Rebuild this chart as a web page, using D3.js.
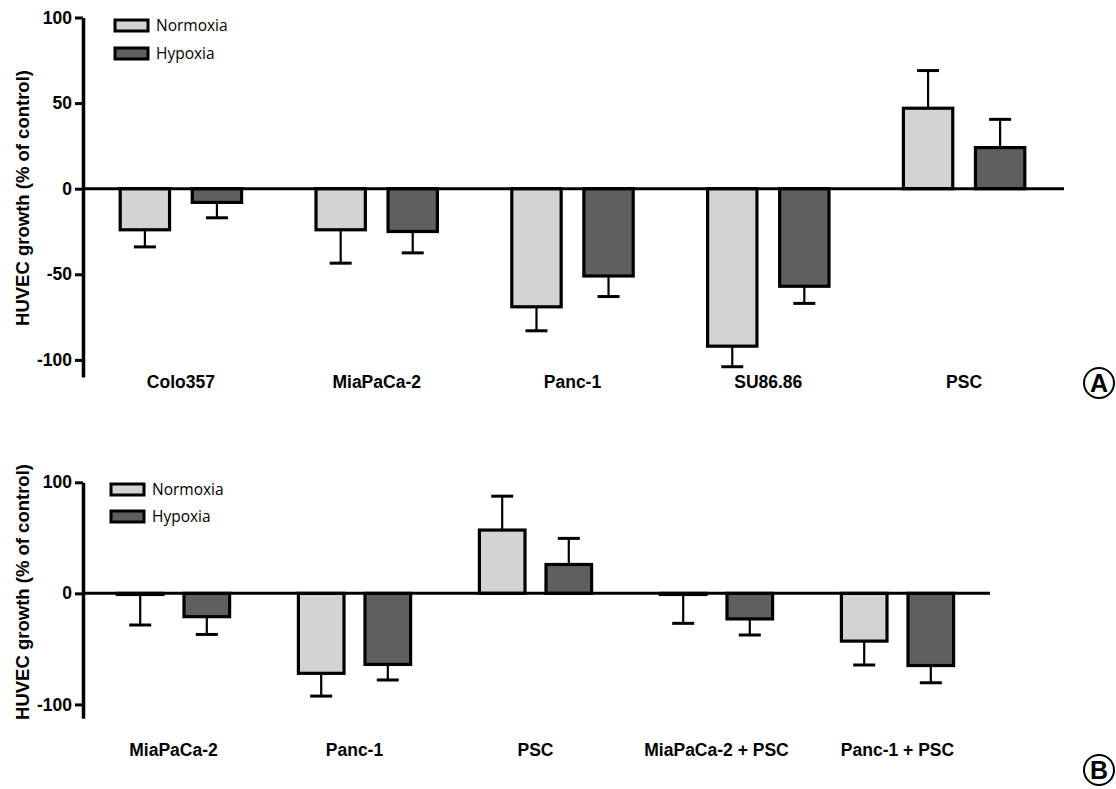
<!DOCTYPE html>
<html>
<head>
<meta charset="utf-8">
<script src="https://cdn.jsdelivr.net/npm/d3@7"></script>
<style>
  body { margin: 0; background: #fff; }
  svg { display: block; }
  .tick text { font: bold 17.5px "Liberation Sans", Arial, sans-serif; fill: #000; }
</style>
</head>
<body>
<svg width="1116" height="789"></svg>
<script>
// data
var seriesNames = ["Normoxia", "Hypoxia"];
var seriesColors = ["#d3d3d3", "#5f5f5f"];

var groupsA = ["Colo357", "MiaPaCa-2", "Panc-1", "SU86.86", "PSC"];
var normoxiaA = [-24, -24, -69, -92, 47];
var normoxiaErrA = [10, 19.5, 14, 12, 22];
var hypoxiaA = [-8, -25, -51, -57, 24];
var hypoxiaErrA = [9, 12.5, 12, 10, 16.5];
var ticksA = [-100, -50, 0, 50, 100];

var groupsB = ["MiaPaCa-2", "Panc-1", "PSC", "MiaPaCa-2 + PSC", "Panc-1 + PSC"];
var normoxiaB = [-1, -72, 57, -1, -43];
var normoxiaErrB = [27.5, 20.5, 30.5, 26, 21.5];
var hypoxiaB = [-21, -64, 26, -23, -65];
var hypoxiaErrB = [16, 14, 23.5, 14.5, 15.5];
var ticksB = [-100, 0, 100];

var svg = d3.select("svg");
var boldFont = '"Liberation Sans", Arial, sans-serif';

function panel(opt) {
  var g = svg.append("g");

  var x = d3.scaleBand()
      .domain(opt.groups)
      .range([83, opt.right]);

  var xs = d3.scaleBand()
      .domain(seriesNames)
      .range([x.bandwidth() * 0.19, x.bandwidth() * 0.81])
      .paddingInner(0.315);

  var y = d3.scaleLinear()
      .domain(opt.yDomain)
      .range(opt.yRange);

  // rows of {group, series, value, err}
  var rows = [];
  opt.groups.forEach(function(gr, i) {
    rows.push({group: gr, s: 0, value: opt.norm[i], err: opt.normErr[i]});
    rows.push({group: gr, s: 1, value: opt.hyp[i], err: opt.hypErr[i]});
  });

  // y axis
  var ax = g.append("g")
      .attr("transform", "translate(83,0)")
      .call(d3.axisLeft(y)
              .tickValues(opt.ticks)
              .tickSize(8)
              .tickSizeOuter(0)
              .tickPadding(3)
              .tickFormat(function(d) { return String(d); }));
  ax.select(".domain").attr("stroke", "#000").attr("stroke-width", 3.5);
  ax.selectAll(".tick line").attr("stroke", "#000").attr("stroke-width", 3);

  g.append("text")
      .attr("transform", "translate(29," + opt.titleY + ") rotate(-90)")
      .attr("text-anchor", "middle")
      .style("font", "bold 18.5px " + boldFont)
      .text("HUVEC growth (% of control)");

  // bars
  g.selectAll(".bar")
      .data(rows)
      .enter().append("rect")
      .attr("class", "bar")
      .attr("x", function(d) { return x(d.group) + xs(seriesNames[d.s]); })
      .attr("width", xs.bandwidth())
      .attr("y", function(d) { return y(Math.max(0, d.value)); })
      .attr("height", function(d) { return Math.abs(y(d.value) - y(0)); })
      .attr("fill", function(d) { return seriesColors[d.s]; })
      .attr("stroke", "#000")
      .attr("stroke-width", 3.2);

  // error bars (one sided, away from zero)
  var eb = g.selectAll(".err")
      .data(rows)
      .enter().append("g")
      .attr("class", "err")
      .attr("transform", function(d) {
        return "translate(" + (x(d.group) + xs(seriesNames[d.s]) + xs.bandwidth() / 2) + ",0)";
      });
  function tip(d) { return d.value >= 0 ? d.value + d.err : d.value - d.err; }
  eb.append("line")
      .attr("y1", function(d) { return y(d.value); })
      .attr("y2", function(d) { return y(tip(d)); })
      .attr("stroke", "#000").attr("stroke-width", 2.2);
  eb.append("line")
      .attr("x1", -11).attr("x2", 11)
      .attr("y1", function(d) { return y(tip(d)); })
      .attr("y2", function(d) { return y(tip(d)); })
      .attr("stroke", "#000").attr("stroke-width", 3);

  // zero line
  g.append("line")
      .attr("x1", 83).attr("x2", opt.right + 2)
      .attr("y1", y(0)).attr("y2", y(0))
      .attr("stroke", "#000").attr("stroke-width", 3);

  // category labels
  g.selectAll(".cat")
      .data(opt.groups)
      .enter().append("text")
      .attr("class", "cat")
      .attr("x", function(d) { return x(d) + x.bandwidth() / 2; })
      .attr("y", opt.labelY)
      .attr("text-anchor", "middle")
      .style("font", "bold 17.5px " + boldFont)
      .text(function(d) { return d; });

  // legend
  var lg = g.selectAll(".leg")
      .data(seriesNames)
      .enter().append("g")
      .attr("class", "leg")
      .attr("transform", function(d, i) { return "translate(" + opt.legX + "," + (opt.legY + i * opt.legStep) + ")"; });
  lg.append("rect")
      .attr("width", 33).attr("height", 11)
      .attr("fill", function(d, i) { return seriesColors[i]; })
      .attr("stroke", "#000").attr("stroke-width", 3);
  lg.append("text")
      .attr("x", 41).attr("y", 11)
      .style("font", '15.5px "Open Sans", sans-serif')
      .text(function(d) { return d; });

  // panel letter
  var pl = g.append("g").attr("transform", "translate(1099," + opt.letterY + ")");
  pl.append("circle").attr("r", 15).attr("fill", "none").attr("stroke", "#000").attr("stroke-width", 2);
  pl.append("text")
      .attr("text-anchor", "middle")
      .attr("y", 9)
      .style("font", "bold 25px " + boldFont)
      .text(opt.letter);
}

panel({
  groups: groupsA, norm: normoxiaA, normErr: normoxiaErrA, hyp: hypoxiaA, hypErr: hypoxiaErrA,
  ticks: ticksA, yDomain: [-110, 100], yRange: [377, 17.5], right: 1062,
  titleY: 198, labelY: 388, legX: 115, legY: 20, legStep: 28, letter: "A", letterY: 383
});

panel({
  groups: groupsB, norm: normoxiaB, normErr: normoxiaErrB, hyp: hypoxiaB, hypErr: hypoxiaErrB,
  ticks: ticksB, yDomain: [-112.5, 100], yRange: [718.3, 482.3], right: 988,
  titleY: 592, labelY: 756, legX: 111, legY: 484, legStep: 27, letter: "B", letterY: 770
});
</script>
</body>
</html>
